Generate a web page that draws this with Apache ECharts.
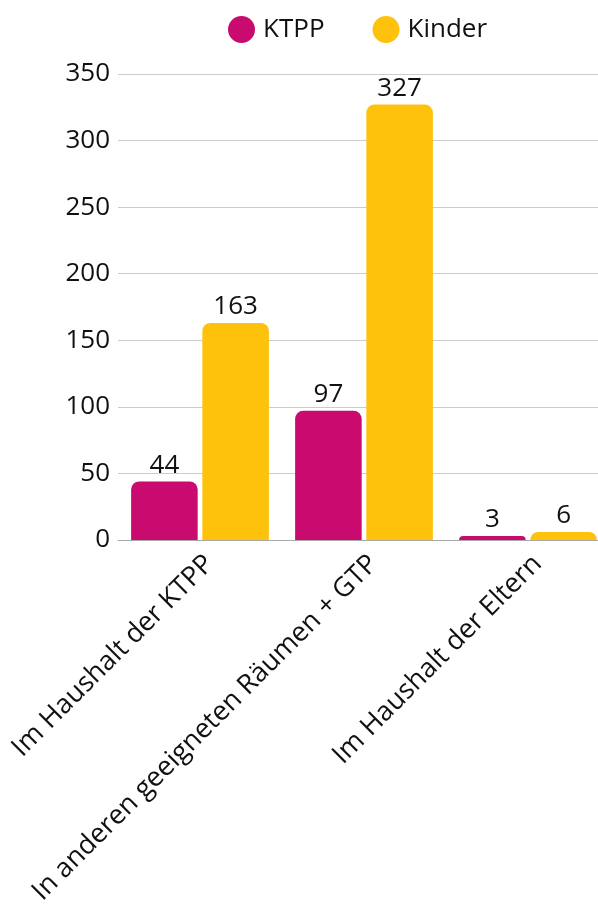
<!DOCTYPE html>
<html>
<head>
<meta charset="utf-8">
<script src="https://cdn.jsdelivr.net/npm/echarts@6/dist/echarts.min.js"></script>
<style>
  html, body { margin: 0; padding: 0; background: #fff; overflow: hidden; }
  #chart { width: 610px; height: 904px; }
</style>
</head>
<body>
<div id="chart"></div>
<script>
// Daten
var categories = ["Im Haushalt der KTPP", "In anderen geeigneten Räumen + GTP", "Im Haushalt der Eltern"];
var ktpp = [44, 97, 3];
var kinder = [163, 327, 6];
var yTicks = { min: 0, max: 350, interval: 50 };

var font = "'Open Sans', 'Noto Sans', sans-serif";

var chart = echarts.init(document.getElementById("chart"));

chart.setOption({
  animation: false,
  textStyle: { fontFamily: font },
  legend: {
    top: 11,
    left: 223,
    icon: "circle",
    itemWidth: 27,
    itemHeight: 27,
    itemGap: 48,
    textStyle: { fontSize: 26, color: "#111", fontFamily: font, padding: [0, 0, 0, 3] }
  },
  grid: { left: 118, right: 0, top: 74, bottom: 364, outerBoundsMode: "none", containLabel: false },
  xAxis: {
    type: "category",
    data: categories,
    axisTick: { show: false },
    axisLine: { lineStyle: { color: "#aaa" } },
    axisLabel: {
      rotate: 45,
      interval: 0,
      fontSize: 27,
      color: "#111",
      margin: 10,
      verticalAlign: "top",
      fontFamily: font
    }
  },
  yAxis: {
    type: "value",
    min: yTicks.min,
    max: yTicks.max,
    interval: yTicks.interval,
    axisLabel: { fontSize: 26, color: "#111", margin: 8, fontFamily: font },
    splitLine: { lineStyle: { color: "#ccc" } }
  },
  series: [
    {
      name: "KTPP",
      type: "bar",
      data: ktpp,
      barGap: "7%",
      barCategoryGap: "16%",
      itemStyle: { color: "#C90B6F", borderRadius: [8, 8, 0, 0] },
      label: { show: true, position: "top", fontSize: 26, color: "#111", distance: 3 }
    },
    {
      name: "Kinder",
      type: "bar",
      data: kinder,
      itemStyle: { color: "#FFC20C", borderRadius: [8, 8, 0, 0] },
      label: { show: true, position: "top", fontSize: 26, color: "#111", distance: 3 }
    }
  ]
});
</script>
</body>
</html>
